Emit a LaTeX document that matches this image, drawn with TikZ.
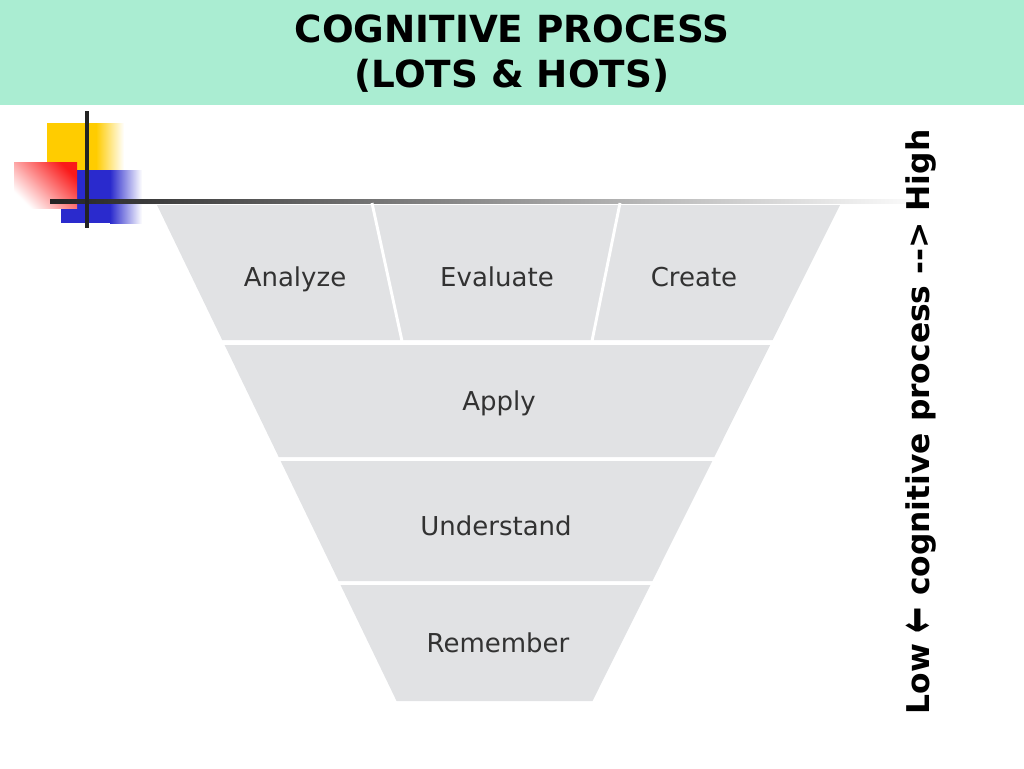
\documentclass[tikz,border=0pt]{standalone}
\usepackage{fontspec}
\setmainfont{DejaVu Sans}
\usetikzlibrary{positioning}
\definecolor{bannerColor}{RGB}{170,237,210}
\definecolor{funnelColor}{RGB}{225,226,228}
\definecolor{labelColor}{RGB}{50,50,50}
\definecolor{squareYellow}{RGB}{255,204,0}
\definecolor{squareBlue}{RGB}{42,42,205}
\definecolor{squareRed}{RGB}{250,25,25}
\definecolor{barColor}{RGB}{35,35,35}
\tikzstyle{slide} = [x = .75pt, y = -.75pt]
\tikzstyle{bandStyle} = [fill=funnelColor]
\tikzstyle{dividerLine} = [draw=white, line width=2.2pt]
\tikzstyle{barLine} = [draw=barColor, line width=3pt]
\tikzstyle{bandText} = [font=\fontsize{19.5}{23}\selectfont, text=labelColor, anchor=base, inner sep=0pt]
\tikzstyle{titleText} = [font=\fontsize{28}{34}\selectfont\bfseries, anchor=base, inner sep=0pt]
\tikzstyle{sideText} = [font=\fontsize{23.5}{28}\selectfont\bfseries, anchor=base, rotate=90, inner sep=0pt]
\newcommand{\leftEdge}[1]{157 + 0.483 * (#1 - 205)}
\newcommand{\rightEdge}[1]{840 - 0.499 * (#1 - 205)}
\newcommand{\band}[2]{\fill [bandStyle] ({\leftEdge{#1}}, #1) -- ({\rightEdge{#1}}, #1) -- ({\rightEdge{#2}}, #2) -- ({\leftEdge{#2}}, #2) -- cycle;}
\newcommand{\fadeSquare}[5]{\fill [#1] (#2, #4) rectangle (#3, #5);}
\newcommand{\bigArrow}{\raisebox{-0.18em}{\scalebox{1}[1.7]{←}}}

\begin{document}
\begin{tikzpicture}[slide]
  \useasboundingbox (0,0) rectangle (1024,768);
  % banner
  \fill [bannerColor] (0,0) rectangle (1024,105);
  \node [titleText] (titleTop) at (512,42) {COGNITIVE PROCESS};
  \node [titleText] (titleBottom) at (512,87) {(LOTS \& HOTS)};
  % corner squares
  \fadeSquare{squareYellow}{47}{96}{123}{170}
  \shade [left color=squareYellow, right color=white] (96,123) rectangle (124,170);
  \fadeSquare{squareBlue}{61}{110}{170}{223}
  \shade [left color=squareBlue, right color=white] (110,170) rectangle (142,223);
  \shade [shading=axis, top color=squareRed, bottom color=white, shading angle=-45] (14,162) rectangle (77,208);
  \shade [left color=barColor, right color=white] (50,199) rectangle (930,203);
  \draw [barLine] (87,111) -- (87,228);
  % funnel
  \band{205}{340}
  \band{345}{457}
  \band{461}{581}
  \band{585}{701}
  \draw [dividerLine] (372,203) -- (402,341);
  \draw [dividerLine] (620,203) -- (592,341);
  \node [bandText] (analyzeText) at (295,286) {Analyze};
  \node [bandText] (evaluateText) at (497,286) {Evaluate};
  \node [bandText] (createText) at (694,286) {Create};
  \node [bandText] (applyText) at (499,410) {Apply};
  \node [bandText] (understandText) at (496,535) {Understand};
  \node [bandText] (rememberText) at (498,652) {Remember};
  % side label
  \node [sideText] (levelText) at (929,422) {Low \bigArrow{} cognitive process -{}-> High};
\end{tikzpicture}
\end{document}
